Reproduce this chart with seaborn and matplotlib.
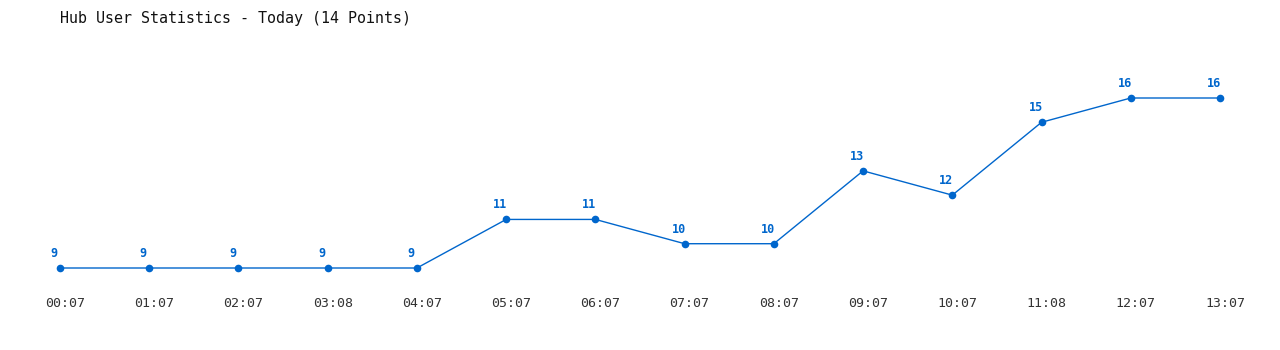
import matplotlib
matplotlib.use("Agg")
import matplotlib.pyplot as plt
import matplotlib.transforms as mtransforms
import seaborn as sns
import pandas as pd

times = ["00:07", "01:07", "02:07", "03:08", "04:07", "05:07", "06:07",
         "07:07", "08:07", "09:07", "10:07", "11:08", "12:07", "13:07"]
users = [9, 9, 9, 9, 9, 11, 11, 10, 10, 13, 12, 15, 16, 16]
title = "Hub User Statistics - Today (14 Points)"

color = "#0066CC"
sns.set_theme(style="white")
plt.rcParams['font.family'] = ['DejaVu Sans Mono', 'DejaVu Sans']

df = pd.DataFrame({"idx": range(len(times)), "users": users})

W, H = 1280, 350
fig = plt.figure(figsize=(W / 100, H / 100), dpi=100)
ax = fig.add_axes([60 / W, (H - 268) / H, (1220 - 60) / W, (268 - 98) / H])
sns.lineplot(data=df, x="idx", y="users", ax=ax, color=color, linewidth=1,
             marker="o", markersize=5.5, markeredgewidth=0, clip_on=False)
ax.set_xlim(0, len(times) - 1)
ax.set_ylim(min(users), max(users))
for s in ax.spines.values():
    s.set_visible(False)
ax.set_yticks([])
ax.set_xticks(range(len(times)))
ax.set_xticklabels(times, fontsize=9.5, color="#333333")
ax.tick_params(axis="x", length=0, pad=21)
shift = mtransforms.ScaledTranslation(5 / 100, 0, fig.dpi_scale_trans)
for lbl in ax.get_xticklabels():
    lbl.set_transform(lbl.get_transform() + shift)
ax.set_xlabel("")
ax.set_ylabel("")
for i, v in enumerate(users):
    ax.annotate(str(v), (i, v), xytext=(-6, 8), textcoords="offset pixels",
                ha="center", va="bottom", fontsize=8.5, fontweight="bold",
                color=color, annotation_clip=False)
fig.text(60 / W, 1 - 18 / H, title, ha="left", va="center", fontsize=10.8,
         color="#111111")
fig.savefig("out.png", dpi=100)
